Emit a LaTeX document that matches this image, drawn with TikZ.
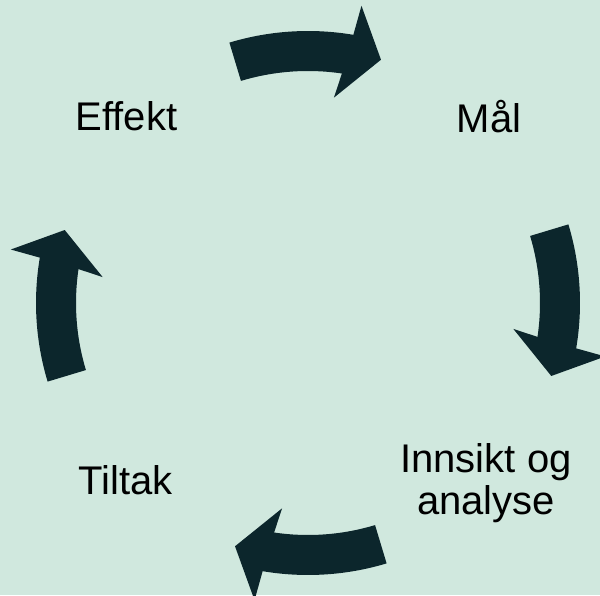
\documentclass[tikz,border=0pt]{standalone}
\usepackage{fontspec}
\setmainfont{Liberation Sans}
\definecolor{cyclebg}{RGB}{208,232,222}
\definecolor{cyclearrow}{RGB}{12,38,44}
\tikzset{
	steplabel/.style={inner sep=0pt, font=\fontsize{40}{42}\selectfont, text=black}
}

\begin{document}
\begin{tikzpicture}[x=1pt,y=1pt]
	\fill[cyclebg] (0,0) rectangle (600,595);
	\useasboundingbox (0,0) rectangle (600,595);
	% curved block arrows, going clockwise
	\begin{scope}[shift={(308,292)}]
	\foreach \a in {90,0,-90,180}
	{
		\fill[cyclearrow] ({\a+16.8}:272) arc[start angle=\a+16.8, end angle=\a-9.6, radius=272pt]
			-- ({\a-10.2}:302) -- ({\a-16.7}:254) -- ({\a-7.2}:207) -- ({\a-8.4}:232)
			arc[start angle=\a-8.4, end angle=\a+16.8, radius=232pt] -- cycle;
	}
	\end{scope}
	\node[steplabel, anchor=base] (effekt) at (126.5,464) {Effekt};
	\node[steplabel, anchor=base] (maal) at (489,462) {Mål};
	\node[steplabel, anchor=base] (tiltak) at (125.5,101) {Tiltak};
	\node[steplabel, anchor=center, align=center] (innsikt) at (486,112) {Innsikt og\\analyse};
\end{tikzpicture}
\end{document}
